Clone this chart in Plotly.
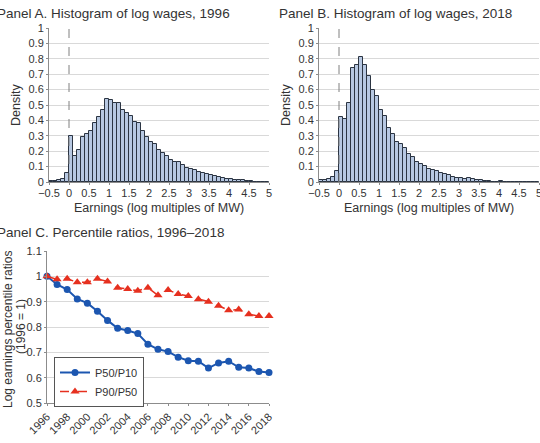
import plotly.graph_objects as go

# ---------------- data ----------------
bin_left = [round(-0.5 + 0.1 * i, 1) for i in range(55)]

dens_1996 = [0.005, 0.008, 0.010, 0.020, 0.060, 0.300, 0.170, 0.210, 0.290, 0.310,
             0.330, 0.380, 0.420, 0.470, 0.540, 0.530, 0.510, 0.510, 0.470, 0.450,
             0.430, 0.390, 0.380, 0.330, 0.290, 0.260, 0.250, 0.210, 0.190, 0.170,
             0.140, 0.130, 0.130, 0.110, 0.090, 0.085, 0.080, 0.065, 0.060, 0.055,
             0.045, 0.040, 0.035, 0.025, 0.020, 0.020, 0.015, 0.010, 0.012, 0.008,
             0.004, 0.003, 0.002, 0.002, 0.001]

dens_2018 = [0.012, 0.015, 0.018, 0.030, 0.070, 0.420, 0.410, 0.510, 0.740, 0.760,
             0.810, 0.760, 0.690, 0.600, 0.560, 0.470, 0.430, 0.350, 0.310, 0.260,
             0.250, 0.220, 0.180, 0.160, 0.130, 0.115, 0.105, 0.085, 0.075, 0.070,
             0.060, 0.055, 0.045, 0.035, 0.025, 0.025, 0.022, 0.025, 0.020, 0.015,
             0.010, 0.008, 0.005, 0.003, 0.003, 0.004, 0.003, 0.002, 0.002, 0.001,
             0.001, 0.001, 0.001, 0.001, 0.001]

years = list(range(1996, 2019))
p50_p10 = [1.000, 0.968, 0.948, 0.911, 0.894, 0.862, 0.826, 0.795, 0.786, 0.774,
           0.732, 0.712, 0.703, 0.681, 0.667, 0.665, 0.638, 0.658, 0.665, 0.641,
           0.638, 0.624, 0.620]
p90_p50 = [1.000, 0.988, 0.990, 0.977, 0.977, 0.990, 0.980, 0.955, 0.950, 0.943,
           0.955, 0.925, 0.946, 0.930, 0.922, 0.910, 0.900, 0.884, 0.866, 0.869,
           0.850, 0.843, 0.843]

hist_ticks = [-0.5, 0, 0.5, 1, 1.5, 2, 2.5, 3, 3.5, 4, 4.5, 5]
year_ticks = list(range(1996, 2019, 2))

# ---------------- style ----------------
FONT = "Liberation Sans, Arial, sans-serif"
TXT = "#333333"
GRID = "#d9d9d9"
AXLINE = "#8c8c8c"
BAR_FILL = "#b7c8e2"
BAR_LINE = "#2b3442"
BLUE = "#1c56b0"
RED = "#e6301f"

W, H = 540, 443


def px_x(p):
    return p / W


def px_y(p):
    return 1 - p / H


fig = go.Figure()

for dens, xa, ya in [(dens_1996, "x", "y"), (dens_2018, "x2", "y2")]:
    fig.add_trace(go.Bar(
        x=bin_left, y=dens, width=0.1, offset=0,
        marker=dict(color=BAR_FILL, line=dict(color=BAR_LINE, width=1)),
        xaxis=xa, yaxis=ya, showlegend=False,
    ))
    fig.add_trace(go.Scatter(
        x=[0, 0], y=[0, 1], mode="lines",
        line=dict(color="#808080", width=1, dash="dash"),
        xaxis=xa, yaxis=ya, showlegend=False, hoverinfo="skip",
    ))

fig.add_trace(go.Scatter(
    x=years, y=p50_p10, mode="lines+markers", name="P50/P10",
    line=dict(color=BLUE, width=2),
    marker=dict(symbol="circle", size=7, color=BLUE),
    xaxis="x3", yaxis="y3", cliponaxis=False,
))
fig.add_trace(go.Scatter(
    x=years, y=p90_p50, mode="lines+markers", name="P90/P50",
    line=dict(color=RED, width=1.5, dash="dash"),
    marker=dict(symbol="triangle-up", size=8, color=RED),
    xaxis="x3", yaxis="y3", cliponaxis=False,
))

tickfont = dict(family=FONT, size=11, color=TXT)

hist_x = dict(
    range=[-0.5, 5], tickmode="array", tickvals=hist_ticks,
    ticks="outside", ticklen=2, tickcolor=AXLINE, ticklabelstandoff=-1,
    ticklabeloverflow="allow",
    showline=True, linecolor=AXLINE, showgrid=False, zeroline=False,
    tickfont=tickfont, automargin=False,
)
hist_y = dict(
    range=[0, 1], dtick=0.1, tick0=0,
    ticks="outside", ticklen=2, tickcolor=AXLINE,
    showline=True, linecolor=AXLINE, showgrid=True, gridcolor=GRID, zeroline=False,
    tickfont=tickfont, automargin=False,
)


def ann(text, x, y, size=12.5, angle=0, xanchor="center"):
    return dict(text=text, x=px_x(x), y=px_y(y), xref="paper", yref="paper",
                xanchor=xanchor, yanchor="middle", showarrow=False, textangle=angle,
                font=dict(family=FONT, size=size, color=TXT))


fig.update_layout(
    width=W, height=H,
    margin=dict(l=0, r=0, t=0, b=0),
    paper_bgcolor="white", plot_bgcolor="white",
    font=dict(family=FONT, color=TXT),
    bargap=0,
    xaxis=dict(hist_x, domain=[px_x(49), px_x(269)], anchor="y"),
    yaxis=dict(hist_y, domain=[px_y(182), px_y(28)], anchor="x"),
    xaxis2=dict(hist_x, domain=[px_x(319), px_x(539)], anchor="y2"),
    yaxis2=dict(hist_y, domain=[px_y(182), px_y(28)], anchor="x2"),
    xaxis3=dict(
        range=[1996, 2018], tickmode="array", tickvals=year_ticks, tickangle=-45,
        ticks="outside", ticklen=2, tickcolor=AXLINE, ticklabeloverflow="allow",
        showline=True, linecolor=AXLINE, showgrid=False, zeroline=False,
        tickfont=tickfont, domain=[px_x(47), px_x(269)], anchor="y3", automargin=False,
    ),
    yaxis3=dict(
        range=[0.5, 1.1], dtick=0.1, tick0=0.5,
        ticks="outside", ticklen=2, tickcolor=AXLINE,
        showline=True, linecolor=AXLINE, showgrid=True, gridcolor=GRID, zeroline=False,
        tickfont=tickfont, domain=[px_y(403), px_y(251)], anchor="x3", automargin=False,
    ),
    legend=dict(
        x=px_x(54), y=px_y(357), xanchor="left", yanchor="top",
        bordercolor="#555555", borderwidth=1, bgcolor="white",
        font=dict(family=FONT, size=11, color=TXT),
        tracegroupgap=0, itemwidth=30,
    ),
    annotations=[
        ann("Panel A. Histogram of log wages, 1996", -5, 14, size=13.5, xanchor="left"),
        ann("Panel B. Histogram of log wages, 2018", 277, 14, size=13.5, xanchor="left"),
        ann("Panel C. Percentile ratios, 1996\u20132018", -5, 232, size=13.5, xanchor="left"),
        ann("Density", 16, 105, angle=-90),
        ann("Density", 286, 105, angle=-90),
        ann("Earnings (log multiples of MW)", 159, 208),
        ann("Earnings (log multiples of MW)", 429, 208),
        ann("Log earnings percentile ratios", 8, 330, size=12, angle=-90),
        ann("(1996 = 1)", 21, 327, size=12, angle=-90),
    ],
)

fig.write_html("out.html")
